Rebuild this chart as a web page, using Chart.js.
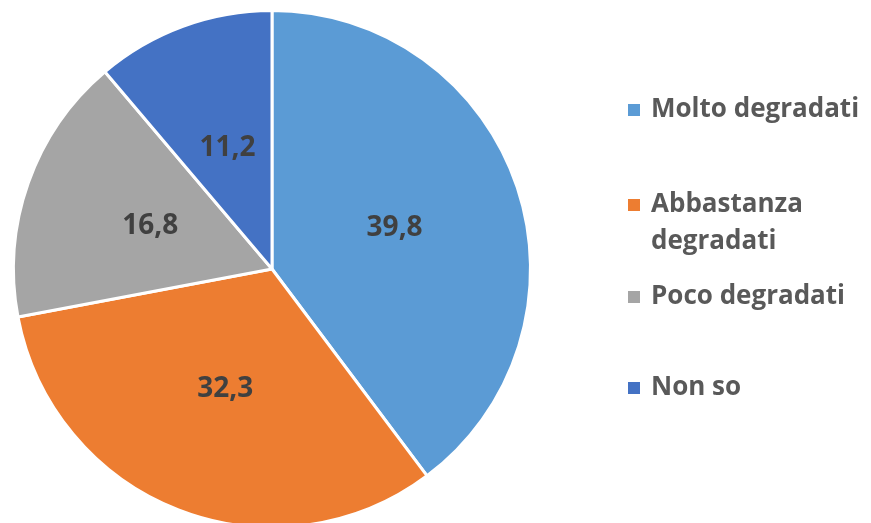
<!DOCTYPE html>
<html>
<head>
<meta charset="utf-8">
<script src="https://cdn.jsdelivr.net/npm/chart.js@4.4.0/dist/chart.umd.min.js"></script>
<style>
  html, body { margin: 0; padding: 0; background: #fff; overflow: hidden; }
  #wrap { width: 871px; height: 538px; }
</style>
</head>
<body>
<div id="wrap"><canvas id="myChart" width="871" height="538"></canvas></div>
<script>
const categories = ["Molto degradati", "Abbastanza\ndegradati", "Poco degradati", "Non so"];
const values = [39.8, 32.3, 16.8, 11.2];
const valueLabels = ["39,8", "32,3", "16,8", "11,2"];
const colors = ["#5B9BD5", "#ED7D31", "#A5A5A5", "#4472C4"];

const FONT = "'Open Sans', sans-serif";

// value labels at half radius of each slice
const sliceLabels = {
  id: "sliceLabels",
  afterDatasetsDraw(chart) {
    const ctx = chart.ctx;
    const meta = chart.getDatasetMeta(0);
    ctx.save();
    ctx.font = "bold 28px " + FONT;
    ctx.fillStyle = "#404040";
    ctx.textAlign = "center";
    ctx.textBaseline = "middle";
    meta.data.forEach((arc, i) => {
      const mid = (arc.startAngle + arc.endAngle) / 2;
      const r = arc.outerRadius * 0.5;
      ctx.fillText(valueLabels[i], arc.x + Math.cos(mid) * r, arc.y + Math.sin(mid) * r);
    });
    ctx.restore();
  },
};

// legend on the right, drawn by hand so the second entry can wrap
const sideLegend = {
  id: "sideLegend",
  afterDraw(chart) {
    const ctx = chart.ctx;
    const itemY = [110, 205, 297, 388];
    const lineH = 37;
    ctx.save();
    ctx.font = "bold 26px " + FONT;
    ctx.textBaseline = "middle";
    ctx.textAlign = "left";
    categories.forEach((cat, i) => {
      ctx.fillStyle = colors[i];
      ctx.fillRect(628, itemY[i] - 6, 12, 12);
      ctx.fillStyle = "#595959";
      cat.split("\n").forEach((line, j) => {
        ctx.fillText(line, 651, itemY[i] + j * lineH);
      });
    });
    ctx.restore();
  },
};

new Chart(document.getElementById("myChart"), {
  type: "pie",
  data: {
    labels: categories,
    datasets: [
      {
        data: values,
        backgroundColor: colors,
        borderColor: "#ffffff",
        borderWidth: 3,
      },
    ],
  },
  options: {
    responsive: false,
    animation: false,
    devicePixelRatio: 1,
    layout: { padding: { left: 12, right: 339, top: 9, bottom: 9 } },
    plugins: {
      legend: { display: false },
      tooltip: { enabled: false },
    },
  },
  plugins: [sliceLabels, sideLegend],
});
</script>
</body>
</html>
